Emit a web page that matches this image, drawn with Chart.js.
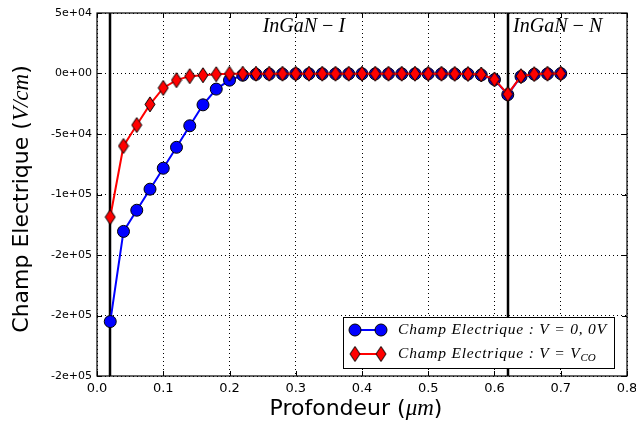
<!DOCTYPE html>
<html>
<head>
<meta charset="utf-8">
<script src="https://cdn.jsdelivr.net/npm/chart.js@4.4.1/dist/chart.umd.min.js"></script>
<style>
  html, body { margin: 0; padding: 0; background: #fff; }
  #wrap { width: 636px; height: 423px; }
</style>
</head>
<body>
<div id="wrap"><canvas id="fieldChart" width="636" height="423"></canvas></div>
<script>
// profondeur (um)
const depth = [0.02, 0.04, 0.06, 0.08, 0.10, 0.12, 0.14, 0.16, 0.18, 0.20,
               0.22, 0.24, 0.26, 0.28, 0.30, 0.32, 0.34, 0.36, 0.38, 0.40,
               0.42, 0.44, 0.46, 0.48, 0.50, 0.52, 0.54, 0.56, 0.58, 0.60,
               0.62, 0.64, 0.66, 0.68, 0.70];

// champ electrique V = 0,0V
const fieldV0 = [-205000, -130500, -113000, -95600, -78300, -61000, -43200, -25900, -12900, -5500,
                 -1400, -700, -500, -400, -300, -300, -300, -300, -300, -300,
                 -300, -300, -300, -300, -300, -300, -400, -500, -1200, -5000,
                 -17500, -2500, -600, -300, -100];

// champ electrique V = Vco
const fieldVco = [-118600, -59900, -42600, -25500, -11900, -5500, -2200, -1400, -600, -300,
                  -200, -200, -200, -200, -200, -200, -200, -200, -200, -200,
                  -200, -200, -200, -200, -200, -200, -300, -400, -800, -4900,
                  -17000, -2200, -500, -200, -100];

const xTicks = [0.0, 0.1, 0.2, 0.3, 0.4, 0.5, 0.6, 0.7, 0.8];
const yTickLabels = ['-2e+05', '-2e+05', '-2e+05', '-1e+05', '-5e+04', '0e+00', '5e+04'];
const interfaces = [0.02, 0.62];
const regionLabels = [
    { text: 'InGaN\u2009\u2212\u2009I', x: 0.25, y: 39000 },
    { text: 'InGaN\u2009\u2212\u2009N', x: 0.628, y: 39000 }
];

// matplotlib style thin diamond marker
function thinDiamond(w, h) {
    const c = document.createElement('canvas');
    c.width = w + 2;
    c.height = h + 2;
    const g = c.getContext('2d');
    g.beginPath();
    g.moveTo(c.width / 2, 1);
    g.lineTo(c.width - 1, c.height / 2);
    g.lineTo(c.width / 2, c.height - 1);
    g.lineTo(1, c.height / 2);
    g.closePath();
    g.fillStyle = '#ff0000';
    g.fill();
    g.lineWidth = 1;
    g.strokeStyle = '#000';
    g.stroke();
    return c;
}
const diamond = thinDiamond(10, 15);

const SERIF_IT = 'italic 20px "Liberation Serif", "DejaVu Serif", serif';

const decorations = {
    id: 'decorations',
    beforeDatasetsDraw(chart) {
        const { ctx, chartArea: a, scales: { x } } = chart;
        ctx.save();
        ctx.strokeStyle = '#000';
        ctx.lineWidth = 2.5;
        interfaces.forEach(v => {
            const px = Math.round(x.getPixelForValue(v));
            ctx.beginPath();
            ctx.moveTo(px, a.top);
            ctx.lineTo(px, a.bottom);
            ctx.stroke();
        });
        ctx.restore();
    },
    afterDraw(chart) {
        const { ctx, chartArea: a, scales: { x, y } } = chart;
        ctx.save();

        // frame
        ctx.strokeStyle = '#000';
        ctx.lineWidth = 1.2;
        ctx.strokeRect(a.left, a.top, a.right - a.left, a.bottom - a.top);

        // inward ticks on all sides
        ctx.lineWidth = 1;
        x.ticks.forEach(t => {
            const px = Math.round(x.getPixelForValue(t.value)) + 0.5;
            ctx.beginPath();
            ctx.moveTo(px, a.bottom); ctx.lineTo(px, a.bottom - 5);
            ctx.moveTo(px, a.top); ctx.lineTo(px, a.top + 5);
            ctx.stroke();
        });
        y.ticks.forEach(t => {
            const py = Math.round(y.getPixelForValue(t.value)) + 0.5;
            ctx.beginPath();
            ctx.moveTo(a.left, py); ctx.lineTo(a.left + 5, py);
            ctx.moveTo(a.right, py); ctx.lineTo(a.right - 5, py);
            ctx.stroke();
        });

        // region labels
        ctx.fillStyle = '#000';
        ctx.font = SERIF_IT;
        ctx.textBaseline = 'middle';
        ctx.textAlign = 'left';
        regionLabels.forEach(r => {
            ctx.fillText(r.text, x.getPixelForValue(r.x), y.getPixelForValue(r.y));
        });

        // axis titles
        const sans = '22px "DejaVu Sans", sans-serif';
        const it = 'italic 23px "Liberation Serif", "DejaVu Serif", serif';
        drawParts(ctx, [['Profondeur (', sans], ['\u03bcm', it], [')', sans]], 356, 409);

        ctx.save();
        ctx.translate(22, 199);
        ctx.rotate(-Math.PI / 2);
        drawParts(ctx, [['Champ Electrique (', sans], ['V/cm', it], [')', sans]], 0, 0);
        ctx.restore();

        // legend
        const lx = 343, ly = 317, lw = 271, lh = 51;
        ctx.fillStyle = '#fff';
        ctx.fillRect(lx, ly, lw, lh);
        ctx.strokeStyle = '#000';
        ctx.lineWidth = 1;
        ctx.strokeRect(lx + 0.5, ly + 0.5, lw, lh);
        const rows = [
            { ds: chart.data.datasets[0], y: ly + 13, text: [['Champ Electrique : V = 0, 0V', '']] },
            { ds: chart.data.datasets[1], y: ly + 37, text: [['Champ Electrique : V = V', ''], ['CO', 'sub']] }
        ];
        rows.forEach(r => {
            ctx.strokeStyle = r.ds.borderColor;
            ctx.lineWidth = 2;
            ctx.beginPath();
            ctx.moveTo(lx + 12, r.y); ctx.lineTo(lx + 38, r.y);
            ctx.stroke();
            [lx + 12, lx + 38].forEach(mx => {
                if (r.ds.pointStyle === 'circle') {
                    ctx.beginPath();
                    ctx.arc(mx, r.y, r.ds.pointRadius, 0, Math.PI * 2);
                    ctx.fillStyle = r.ds.pointBackgroundColor;
                    ctx.fill();
                    ctx.strokeStyle = '#000';
                    ctx.lineWidth = 1;
                    ctx.stroke();
                } else {
                    ctx.drawImage(diamond, mx - diamond.width / 2, r.y - diamond.height / 2);
                }
            });
            ctx.fillStyle = '#000';
            ctx.textAlign = 'left';
            ctx.textBaseline = 'middle';
            let tx = lx + 55;
            r.text.forEach(([s, kind]) => {
                if (kind === 'sub') {
                    ctx.letterSpacing = '0px';
                    ctx.font = 'italic 11px "Liberation Serif", "DejaVu Serif", serif';
                    ctx.fillText(s, tx, r.y + 4);
                } else {
                    ctx.letterSpacing = '0.8px';
                    ctx.font = 'italic 15.5px "Liberation Serif", "DejaVu Serif", serif';
                    ctx.fillText(s, tx, r.y);
                }
                tx += ctx.measureText(s).width;
            });
            ctx.letterSpacing = '0px';
        });
        ctx.restore();
    }
};

function drawParts(ctx, parts, cx, cy) {
    let total = 0;
    parts.forEach(([s, f]) => { ctx.font = f; total += ctx.measureText(s).width; });
    let px = cx - total / 2;
    ctx.fillStyle = '#000';
    ctx.textAlign = 'left';
    ctx.textBaseline = 'middle';
    parts.forEach(([s, f]) => {
        ctx.font = f;
        ctx.fillText(s, px, cy);
        px += ctx.measureText(s).width;
    });
}

const ctx = document.getElementById('fieldChart').getContext('2d');
new Chart(ctx, {
    type: 'line',
    data: {
        datasets: [{
            label: 'Champ Electrique : V = 0, 0V',
            data: depth.map((d, i) => ({ x: d, y: fieldV0[i] })),
            borderColor: '#0000ff',
            backgroundColor: '#0000ff',
            borderWidth: 2,
            pointStyle: 'circle',
            pointRadius: 6,
            pointBackgroundColor: '#0000ff',
            pointBorderColor: '#000',
            pointBorderWidth: 1,
            tension: 0,
            order: 1
        }, {
            label: 'Champ Electrique : V = Vco',
            data: depth.map((d, i) => ({ x: d, y: fieldVco[i] })),
            borderColor: '#ff0000',
            backgroundColor: '#ff0000',
            borderWidth: 2,
            pointStyle: diamond,
            pointRadius: 7,
            pointBackgroundColor: '#ff0000',
            tension: 0,
            order: 0
        }]
    },
    options: {
        responsive: false,
        animation: false,
        layout: { padding: { top: 13, right: 9, left: 0, bottom: 0 } },
        plugins: {
            legend: { display: false },
            tooltip: { enabled: false }
        },
        scales: {
            x: {
                type: 'linear',
                min: 0,
                max: 0.8,
                afterBuildTicks: scale => { scale.ticks = xTicks.map(v => ({ value: v })); },
                afterFit: scale => {
                    scale.height = 47;
                    scale.paddingLeft = 0;
                    scale.paddingRight = 0;
                },
                ticks: {
                    color: '#000',
                    padding: 5,
                    font: { family: '"DejaVu Sans", sans-serif', size: 13 },
                    callback: v => v.toFixed(1)
                },
                grid: { color: '#000', lineWidth: 1, drawTicks: false },
                border: { display: false, dash: [1, 3] }
            },
            y: {
                min: -250000,
                max: 50000,
                afterFit: scale => {
                    scale.width = 97;
                    scale.paddingTop = 0;
                    scale.paddingBottom = 0;
                },
                ticks: {
                    stepSize: 50000,
                    color: '#000',
                    padding: 5,
                    font: { family: '"DejaVu Sans", sans-serif', size: 11 },
                    callback: (v, i) => yTickLabels[i]
                },
                grid: { color: '#000', lineWidth: 1, drawTicks: false },
                border: { display: false, dash: [1, 3] }
            }
        }
    },
    plugins: [decorations]
});
</script>
</body>
</html>
